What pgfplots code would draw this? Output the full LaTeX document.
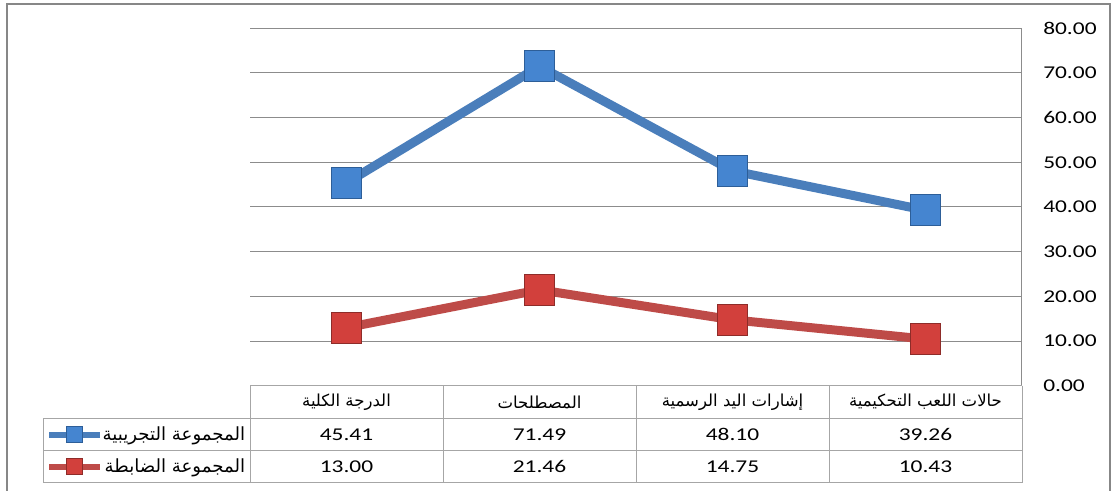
\documentclass[border=0pt]{standalone}
\usepackage{fontspec}
\setmainfont{Carlito}
\newfontfamily\arabicfont[Script=Arabic]{DejaVu Sans}
\usepackage{graphicx}
\usepackage{pgfplots}
\pgfplotsset{compat=1.18}
\TeXXeTstate=1
\definecolor{frame}{HTML}{878787}
\definecolor{gridc}{HTML}{8C8C8C}
\definecolor{tablec}{HTML}{A6A6A6}
\definecolor{blueline}{HTML}{4A7EBB}
\definecolor{bluemark}{HTML}{4585D0}
\definecolor{blueedge}{HTML}{2D5E98}
\definecolor{redline}{HTML}{BE4B48}
\definecolor{redmark}{HTML}{D2403C}
\definecolor{rededge}{HTML}{8E2C29}
\newcommand{\sx}[1]{\scalebox{1.3}[1]{#1}}
\newcommand{\ar}[1]{{\arabicfont\beginR #1\endR}}
\newcommand{\numfont}{\fontsize{13.5}{16}\selectfont}
\newcommand{\arfont}{\fontsize{12.4}{14}\selectfont}
\newcommand{\legfont}{\fontsize{13.6}{15}\selectfont}
\begin{document}
\begin{tikzpicture}[x=0.75pt,y=0.75pt]
\useasboundingbox (0,0) rectangle (1113,491);
\draw[color=frame, line width=1.5pt] (7,-3) -- (7,487) -- (1110,487) -- (1110,-3);
\begin{axis}[
  at={(187.5pt,78.975pt)}, anchor=south west,
  scale only axis, width=579pt, height=268.05pt,
  xmin=0, xmax=4, x dir=reverse,
  ymin=0, ymax=80,
  hide x axis,
  axis y line*=right,
  y axis line style={color=gridc, line width=0.75pt},
  ytick={0,10,20,30,40,50,60,70,80},
  yticklabels={\sx{0.00},\sx{10.00},\sx{20.00},\sx{30.00},\sx{40.00},\sx{50.00},\sx{60.00},\sx{70.00},\sx{80.00}},
  major tick style={draw=none},
  ymajorgrids, grid style={color=gridc, line width=0.75pt},
  yticklabel style={anchor=west, inner sep=0pt, xshift=15.75pt, font=\numfont},
  clip=false,
  legend cell align=right,
  legend style={at={(-0.006,-0.0912)}, anchor=north east, draw=none, fill=none,
    inner sep=0pt, row sep=0pt, font=\legfont,
    nodes={inner sep=0pt, minimum height=24.15pt}},
  legend image code/.code={\draw[#1, line width=4.5pt, mark size=6pt, mark repeat=2, mark phase=2] plot coordinates {(0pt,0pt) (19pt,0pt) (38pt,0pt)};},
]
\addplot[color=blueline, line width=6.75pt, mark=square*, mark size=11.6pt,
  mark options={fill=bluemark, draw=blueedge, line width=0.75pt}]
  coordinates {(0.5,39.26) (1.5,48.10) (2.5,71.49) (3.5,45.41)};
\addlegendentry{\ar{المجموعة التجريبية}}
\addplot[color=redline, line width=6.75pt, mark=square*, mark size=11.6pt,
  mark options={fill=redmark, draw=rededge, line width=0.75pt}]
  coordinates {(0.5,10.43) (1.5,14.75) (2.5,21.46) (3.5,13.00)};
\addlegendentry{\ar{المجموعة الضابطة}}
\end{axis}
% data table
\draw[tablec, line width=0.75pt] (250,105.3) -- (1022,105.3);
\draw[tablec, line width=0.75pt] (43,72.7) -- (1022,72.7);
\draw[tablec, line width=0.75pt] (43,40.5) -- (1022,40.5);
\draw[tablec, line width=0.75pt] (43,8.3) -- (1022,8.3);
\foreach \xx in {250,443,636,829,1022} {\draw[tablec, line width=0.75pt] (\xx,105.3) -- (\xx,8.3);}
\draw[tablec, line width=0.75pt] (43,72.7) -- (43,8.3);
\node[font=\arfont] at (925.5,89) {\ar{حالات اللعب التحكيمية}};
\node[font=\arfont] at (732.5,89) {\ar{إشارات اليد الرسمية}};
\node[font=\arfont] at (539.5,89) {\ar{المصطلحات}};
\node[font=\arfont] at (346.5,89) {\ar{الدرجة الكلية}};
\node[font=\numfont] at (925.5,56.6) {\sx{39.26}};
\node[font=\numfont] at (732.5,56.6) {\sx{48.10}};
\node[font=\numfont] at (539.5,56.6) {\sx{71.49}};
\node[font=\numfont] at (346.5,56.6) {\sx{45.41}};
\node[font=\numfont] at (925.5,24.4) {\sx{10.43}};
\node[font=\numfont] at (732.5,24.4) {\sx{14.75}};
\node[font=\numfont] at (539.5,24.4) {\sx{21.46}};
\node[font=\numfont] at (346.5,24.4) {\sx{13.00}};
\end{tikzpicture}
\end{document}
